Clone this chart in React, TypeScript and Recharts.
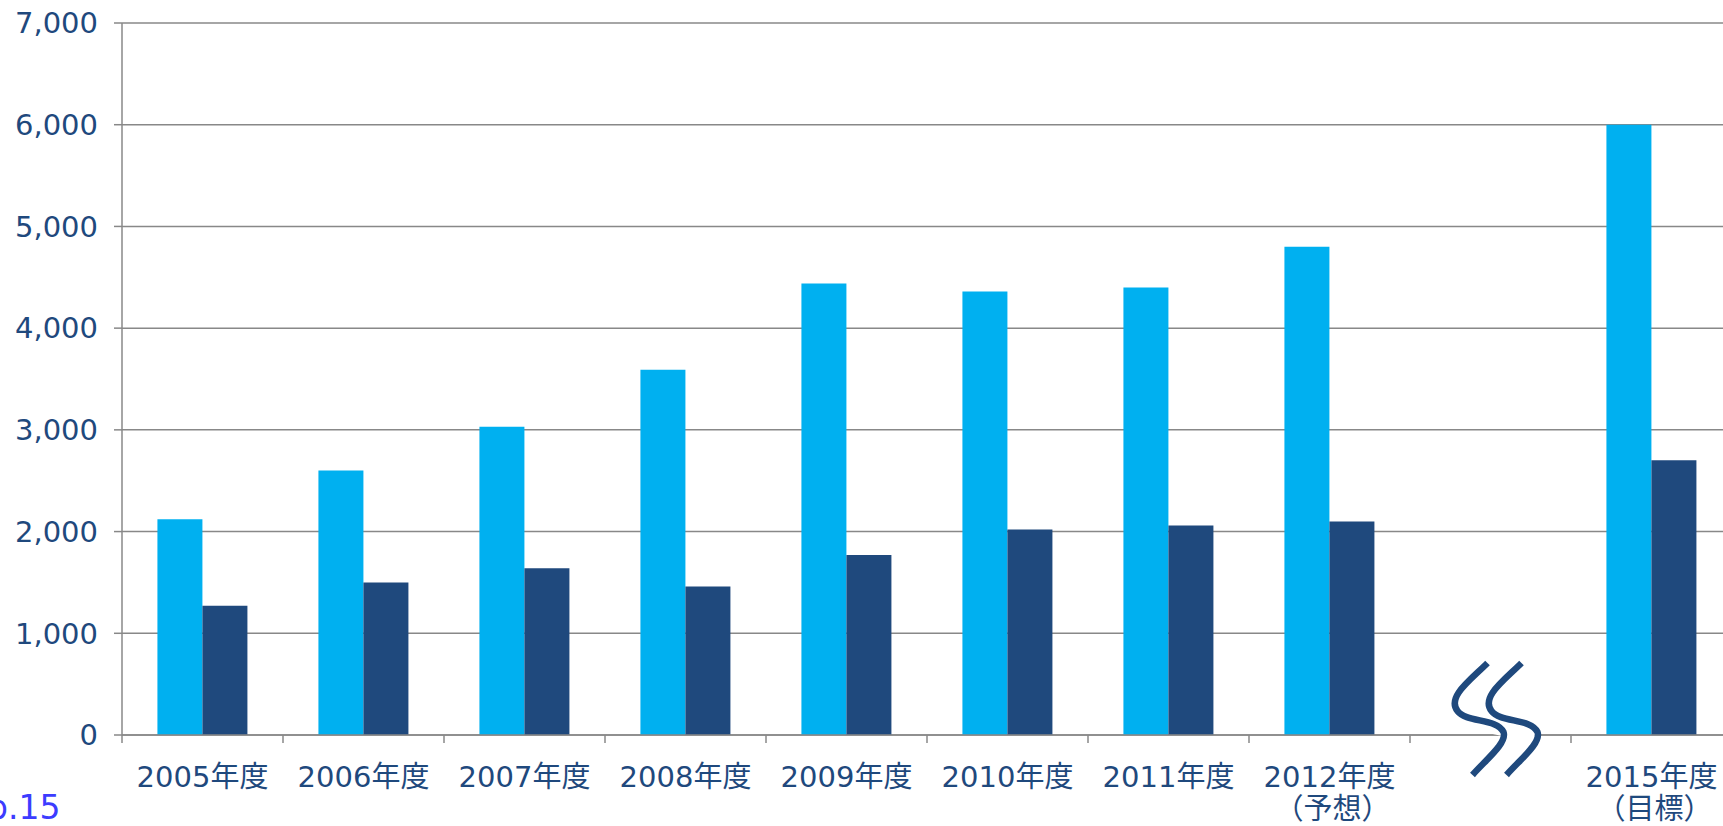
import React from "react";
import { Bar, BarChart, CartesianGrid, XAxis, YAxis } from "recharts";

const categories = ["2005年度", "2006年度", "2007年度", "2008年度", "2009年度", "2010年度", "2011年度", "2012年度", "", "2015年度"];
const subLabels = ["", "", "", "", "", "", "", "（予想）", "", "（目標）"];
const lightValues = [2120, 2600, 3030, 3590, 4440, 4360, 4400, 4800, null, 6000];
const darkValues = [1270, 1500, 1640, 1460, 1770, 2020, 2060, 2100, null, 2700];
const yTicks = [0, 1000, 2000, 3000, 4000, 5000, 6000, 7000];
const breakIndex = 8;

const data = categories.map((name, i) => ({
  name,
  sub: subLabels[i],
  light: lightValues[i],
  dark: darkValues[i],
}));

const TEXT = "#1F497D";
const GRID = "#888888";
const FONT = "'DejaVu Sans', 'Noto Sans CJK JP', sans-serif";

const sPath = "M -3,-72 C -20,-55 -44,-38 -33,-24 C -24,-12 6,-17 13,-3 C 17,8 -5,25 -18,40";

const XTick = (props: any) => {
  const { x, y, payload, index } = props;
  const half = payload?.offset || 80.5;
  const i = payload?.index ?? index;
  const row = data[i] || { name: "", sub: "" };
  return (
    <g>
      <line x1={x - half} y1={y - 8} x2={x - half} y2={y} stroke={GRID} strokeWidth={1.5} />
      {i === categories.length - 1 && (
        <line x1={x + half} y1={y - 8} x2={x + half} y2={y} stroke={GRID} strokeWidth={1.5} />
      )}
      {i === breakIndex && (
        <g transform={`translate(${x}, ${y - 8})`}>
          <path d={sPath} transform="translate(17,0)" fill="none" stroke="#ffffff" strokeWidth={28} />
          <path d={sPath} fill="none" stroke={TEXT} strokeWidth={6.5} />
          <path d={sPath} transform="translate(34,0)" fill="none" stroke={TEXT} strokeWidth={6.5} />
        </g>
      )}
      <text x={x} y={y + 44} textAnchor="middle" fill={TEXT} fontSize={29} fontFamily={FONT}>
        {row.name}
      </text>
      {row.sub && (
        <text x={x + 3} y={y + 76} textAnchor="middle" fill={TEXT} fontSize={29} fontFamily={FONT}>
          {row.sub}
        </text>
      )}
    </g>
  );
};

export default function App() {
  return (
    <div
      style={{
        position: "fixed",
        left: 0,
        top: 0,
        width: 1723,
        height: 826,
        overflow: "hidden",
        background: "#ffffff",
      }}
    >
      <BarChart
        width={1740}
        height={826}
        data={data}
        margin={{ top: 23, right: 8, left: 0, bottom: 0 }}
        barCategoryGap="22%"
        barGap={0}
      >
        <CartesianGrid vertical={false} stroke={GRID} strokeWidth={1.5} />
        <XAxis
          dataKey="name"
          height={91}
          stroke={GRID}
          strokeWidth={1.5}
          tickLine={false}
          tick={<XTick />}
          interval={0}
        />
        <YAxis
          width={122}
          domain={[0, 7000]}
          ticks={yTicks}
          interval={0}
          stroke={GRID}
          strokeWidth={1.5}
          tickSize={8}
          tickMargin={16}
          tickFormatter={(v: number) => v.toLocaleString("en-US")}
          tick={{ fill: TEXT, fontSize: 29, fontFamily: FONT }}
        />
        <Bar dataKey="light" fill="#00B0F0" isAnimationActive={false} />
        <Bar dataKey="dark" fill="#1F497D" isAnimationActive={false} />
      </BarChart>
      <div
        style={{
          position: "absolute",
          left: -13,
          top: 790,
          color: "#3C3CFF",
          fontSize: 33,
          fontFamily: FONT,
          lineHeight: "36px",
          whiteSpace: "nowrap",
        }}
      >
        p.15
      </div>
    </div>
  );
}
